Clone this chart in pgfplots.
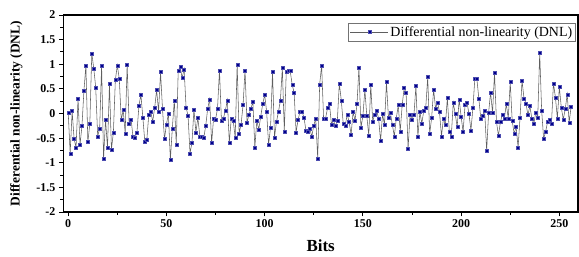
\documentclass[border=0pt]{standalone}
\usepackage{pgfplots}
\pgfplotsset{compat=1.18}
\usepackage{fontspec}
\setmainfont{Liberation Serif}
\definecolor{mk}{RGB}{0,0,140}
\definecolor{ln}{RGB}{95,95,95}
\begin{document}
\begin{tikzpicture}
\useasboundingbox (0,0) rectangle (579bp,257bp);
\begin{axis}[
  at={(63.3bp,45bp)}, anchor=south west,
  scale only axis, width=514.7bp, height=197bp,
  xmin=-2.5, xmax=259.5, ymin=-2, ymax=2,
  xtick={0,50,100,150,200,250},
  xticklabels={0,50,100,150,200,250},
  ytick={-2,-1.5,-1,-0.5,0,0.5,1,1.5,2},
  yticklabels={-2,-1.5,-1,-0.5,0,0.5,1,1.5,2},
  minor x tick num=1, minor y tick num=1,
  tick pos=left, tick align=outside,
  major tick length=4.5bp, minor tick length=2.8bp,
  every tick/.style={black, line width=0.9bp},
  axis line style={line width=1.3bp},
  tick label style={font=\bfseries\fontsize{12}{12}\selectfont},
  xlabel={Bits}, ylabel={Differential non-linearity (DNL)},
  xlabel style={font=\bfseries\fontsize{17}{18}\selectfont, at={(axis description cs:0.5,-0.17)}, anchor=center},
  ylabel style={font=\bfseries\fontsize{13.5}{14}\selectfont, at={(axis description cs:-0.091,0.5)}, anchor=center},
  legend style={at={(axis description cs:0.996,0.961)}, anchor=north east, draw=black!55, line width=0.5bp, font=\fontsize{14}{14}\selectfont, inner sep=1.5bp, row sep=0pt},
  legend cell align=left,
  legend image code/.code={\draw[mark repeat=2,mark phase=2,#1] plot coordinates {(0bp,0bp) (19bp,0bp) (38bp,0bp)};},
]
\addplot[color=ln, line width=0.55bp, mark=square*, mark size=1.5bp, mark options={fill=mk, draw=mk!70!white, line width=0.3bp}] table {
x y
0 0.02
1 -0.81
2 0.05
3 -0.52
4 -0.69
5 0.31
6 -0.64
7 -0.25
8 0.46
9 0.98
10 -0.58
11 -0.21
12 1.22
13 0.92
14 0.53
15 -0.46
16 -0.31
17 0.97
18 -0.92
19 -0.12
20 -0.70
21 0.60
22 -0.73
23 -0.38
24 0.68
25 0.98
26 0.70
27 -0.13
28 0.07
29 -0.40
30 1.00
31 -0.20
32 -0.12
33 -0.48
34 -0.49
35 -0.38
36 0.16
37 0.38
38 -0.08
39 -0.58
40 -0.54
41 -0.03
42 0.04
43 -0.16
44 0.11
45 0.48
46 0.04
47 0.84
48 0.09
49 -0.52
50 -0.22
51 -0.01
52 -0.94
53 -0.30
54 0.27
55 -0.63
56 0.87
57 0.95
58 0.72
59 0.90
60 0.12
61 -0.04
62 -0.81
63 -0.59
64 0.08
65 -0.38
66 -0.09
67 -0.46
68 -0.47
69 -0.49
70 -0.25
71 0.10
72 0.29
73 -0.60
74 -0.10
75 -0.12
76 0.10
77 0.88
78 -0.15
79 -0.10
80 0.06
81 0.27
82 -0.59
83 -0.10
84 -0.15
85 -0.49
86 1.00
87 -0.40
88 -0.22
89 0.17
90 0.88
91 -0.18
92 -0.03
93 0.10
94 0.24
95 -0.69
96 -0.15
97 -0.32
98 -0.06
99 0.19
100 0.38
101 0.04
102 -0.63
103 -0.28
104 0.85
105 -0.49
106 -0.17
107 0.03
108 0.26
109 0.93
110 -0.36
111 0.85
112 0.86
113 0.86
114 0.59
115 0.42
116 -0.38
117 -0.13
118 0.04
119 0.04
120 -0.08
121 -0.34
122 -0.36
123 -0.30
124 -0.47
125 -0.24
126 -0.10
127 -0.91
128 0.59
129 0.98
130 -0.11
131 -0.10
132 0.11
133 0.19
134 -0.22
135 -0.13
136 -0.25
137 -0.14
138 0.61
139 0.27
140 -0.21
141 -0.25
142 -0.02
143 -0.17
144 -0.43
145 0.03
146 -0.14
147 0.19
148 0.94
149 -0.29
150 -0.05
151 0.48
152 -0.05
153 -0.45
154 0.59
155 -0.16
156 -0.02
157 0.06
158 -0.10
159 -0.56
160 -0.01
161 -0.23
162 0.64
163 -0.08
164 0.02
165 -0.23
166 -0.46
167 -0.10
168 0.17
169 -0.36
170 0.17
171 0.52
172 0.42
173 -0.72
174 -0.02
175 -0.12
176 -0.02
177 0.56
178 -0.47
179 0.03
180 -0.20
181 0.06
182 0.12
183 0.74
184 -0.41
185 -0.09
186 0.49
187 0.10
188 0.23
189 0.03
190 -0.46
191 -0.10
192 -0.23
193 0.32
194 -0.37
195 -0.46
196 0.22
197 -0.01
198 -0.27
199 0.29
200 -0.06
201 -0.37
202 0.17
203 0.23
204 -0.01
205 -0.34
206 0.11
207 0.71
208 0.71
209 0.31
210 -0.10
211 -0.05
212 0.06
213 -0.76
214 0.02
215 0.43
216 0.01
217 0.83
218 -0.17
219 -0.45
220 -0.17
221 -0.02
222 -0.10
223 0.19
224 -0.10
225 0.64
226 -0.15
227 -0.41
228 -0.27
229 -0.69
230 -0.08
231 0.67
232 0.31
233 0.21
234 -0.03
235 0.15
236 -0.10
237 -0.21
238 0.02
239 -0.08
240 1.23
241 0.06
242 -0.51
243 -0.37
244 -0.17
245 -0.12
246 -0.20
247 0.61
248 0.33
249 -0.10
250 0.54
251 0.12
252 -0.12
253 0.09
254 0.39
255 -0.18
256 0.14
};
\addlegendentry{Differential non-linearity (DNL)}
\end{axis}
\end{tikzpicture}
\end{document}
